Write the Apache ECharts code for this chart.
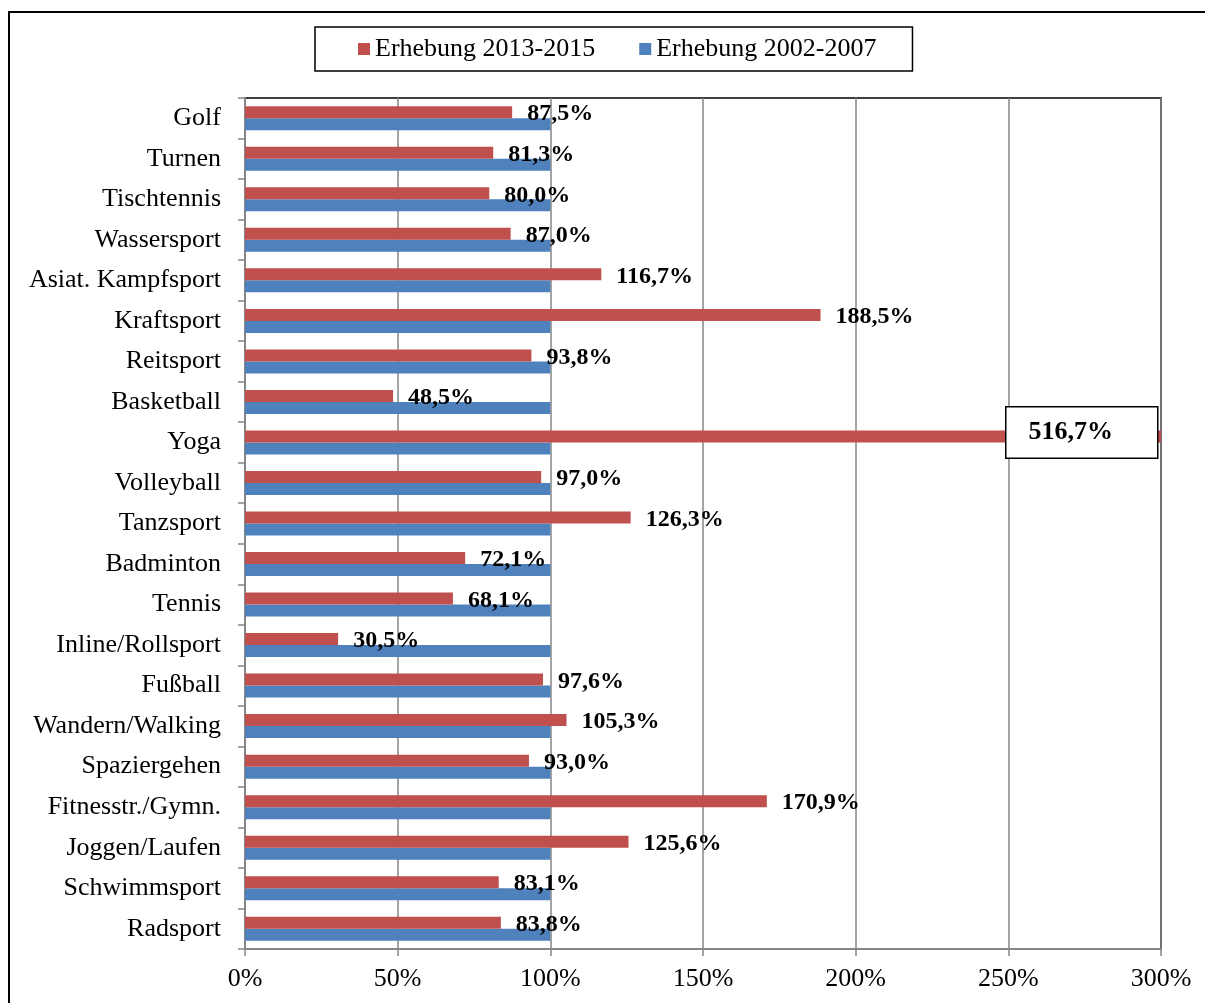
<!DOCTYPE html>
<html>
<head>
    <meta charset="utf-8">
    <title>Erhebung Sportarten</title>
    <script src="https://cdn.jsdelivr.net/npm/echarts@6/dist/echarts.min.js"></script>
    <style>
        html, body { margin: 0; padding: 0; background: #fff; }
        #mainChart { width: 1205px; height: 1003px; }
    </style>
</head>
<body>
<div id="mainChart"></div>
<script>
// Sportarten von oben nach unten
const sports = [
    'Golf', 'Turnen', 'Tischtennis', 'Wassersport', 'Asiat. Kampfsport',
    'Kraftsport', 'Reitsport', 'Basketball', 'Yoga', 'Volleyball',
    'Tanzsport', 'Badminton', 'Tennis', 'Inline/Rollsport', 'Fußball',
    'Wandern/Walking', 'Spaziergehen', 'Fitnesstr./Gymn.', 'Joggen/Laufen',
    'Schwimmsport', 'Radsport'
];
const values2013 = [
    87.5, 81.3, 80.0, 87.0, 116.7,
    188.5, 93.8, 48.5, 516.7, 97.0,
    126.3, 72.1, 68.1, 30.5, 97.6,
    105.3, 93.0, 170.9, 125.6,
    83.1, 83.8
];
const values2002 = [
    100, 100, 100, 100, 100,
    100, 100, 100, 100, 100,
    100, 100, 100, 100, 100,
    100, 100, 100, 100,
    100, 100
];
const seriesNames = ['Erhebung 2013-2015', 'Erhebung 2002-2007'];
const xTicks = [0, 50, 100, 150, 200, 250, 300];

const serif = '"Liberation Serif", "DejaVu Serif", serif';
const fmt = v => v.toFixed(1).replace('.', ',') + '%';

const chart = echarts.init(document.getElementById('mainChart'));

const redData = values2013.map((v, i) => {
    if (sports[i] !== 'Yoga') return v;
    // ausreißer: balken abgeschnitten, wert im kasten
    return {
        value: v,
        label: {
            position: 'insideRight',
            distance: 4,
            offset: [0, -4],
            fontSize: 26,
            backgroundColor: '#fff',
            borderColor: '#000',
            borderWidth: 1.5,
            padding: [12, 44, 12, 22]
        }
    };
});

const option = {
    animation: false,
    backgroundColor: '#fff',
    graphic: [{
        type: 'rect',
        shape: { x: 9, y: 12, width: 1300, height: 1100 },
        style: { fill: 'none', stroke: '#000', lineWidth: 2 },
        silent: true
    }],
    legend: {
        data: seriesNames,
        left: 315,
        top: 27,
        padding: [9, 36, 9, 43],
        itemGap: 44,
        itemWidth: 12,
        itemHeight: 12,
        icon: 'rect',
        borderColor: '#000',
        borderWidth: 1.5,
        textStyle: { fontFamily: serif, fontSize: 26, color: '#000' }
    },
    grid: {
        left: 245,
        right: 44,
        top: 98,
        bottom: 54,
        show: true,
        borderColor: '#000',
        borderWidth: 1.5
    },
    xAxis: {
        type: 'value',
        min: 0,
        max: 300,
        interval: 50,
        axisLine: { show: true, lineStyle: { color: '#868686', width: 2 } },
        axisTick: { show: true, length: 7, lineStyle: { color: '#868686', width: 1.5 } },
        splitLine: { show: true, lineStyle: { color: '#868686', width: 1.5 } },
        axisLabel: {
            fontFamily: serif,
            fontSize: 26,
            color: '#000',
            margin: 17,
            formatter: v => xTicks.includes(v) ? v + '%' : ''
        }
    },
    yAxis: {
        type: 'category',
        inverse: true,
        data: sports,
        axisLine: { show: true, lineStyle: { color: '#868686', width: 2 } },
        axisTick: { show: true, length: 7, lineStyle: { color: '#868686', width: 1.5 } },
        axisLabel: {
            fontFamily: serif,
            fontSize: 26,
            color: '#000',
            margin: 24
        }
    },
    series: [
        {
            name: seriesNames[0],
            type: 'bar',
            data: redData,
            barWidth: 12,
            barGap: '0%',
            itemStyle: { color: '#C0504D' },
            label: {
                show: true,
                position: 'right',
                distance: 15,
                offset: [0, 2],
                fontFamily: serif,
                fontSize: 24,
                fontWeight: 'bold',
                color: '#000',
                formatter: p => fmt(p.value)
            },
            z: 3
        },
        {
            name: seriesNames[1],
            type: 'bar',
            data: values2002,
            barWidth: 12,
            barGap: '0%',
            itemStyle: { color: '#4F81BD' },
            z: 2
        }
    ]
};

chart.setOption(option);
</script>
</body>
</html>
